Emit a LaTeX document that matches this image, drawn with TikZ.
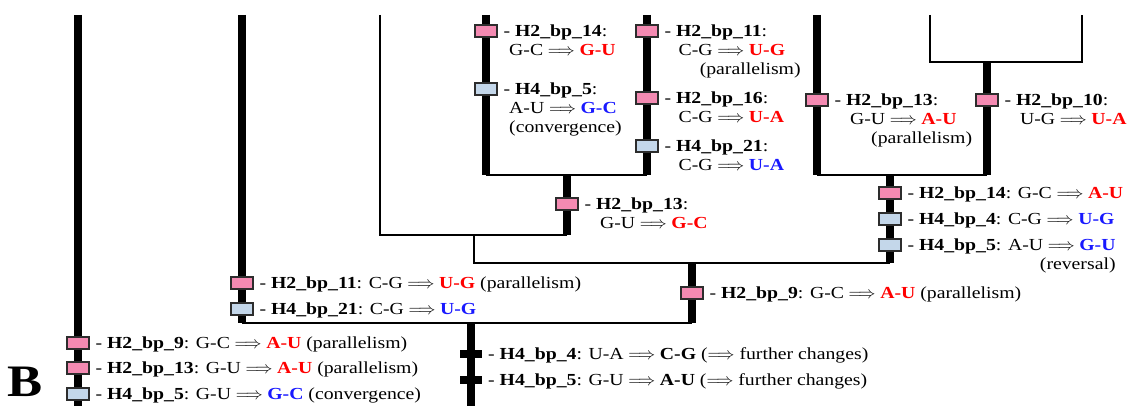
\documentclass[tikz,border=0pt]{standalone}
\usepackage{fontspec}
\setmainfont{Liberation Serif}[FakeStretch=1.17]
\usetikzlibrary{positioning, calc}
\definecolor{h2fill}{RGB}{244, 138, 178}
\definecolor{h4fill}{RGB}{196, 215, 234}
\definecolor{boxborder}{RGB}{45, 45, 45}
\definecolor{gainred}{RGB}{255, 0, 0}
\definecolor{gainblue}{RGB}{25, 25, 255}
\newcommand{\chg}{\;$\Longrightarrow$\;}
\newcommand{\redpair}[1]{\textbf{\textcolor{gainred}{#1}}}
\newcommand{\bluepair}[1]{\textbf{\textcolor{gainblue}{#1}}}
% first line carries the baseline
\newcommand{\toplines}[2][l]{\begin{tabular}[t]{@{}#1@{}}#2\end{tabular}}

\begin{document}
\begin{tikzpicture}[
    x=0.025cm, y=-0.025cm, % one unit = one pixel of the figure
    font=\fontsize{12}{13.5}\selectfont,
    % Styles
    branch/.style={line width=6.3pt},
    link/.style={line width=1.1pt},
    mutbox/.style={
        rectangle,
        draw=boxborder,
        fill=#1,
        line width=1pt,
        minimum width=0.55cm,
        minimum height=0.3cm,
        inner sep=0pt
    },
    tickbar/.style={
        rectangle,
        fill=black,
        minimum width=0.55cm,
        minimum height=0.18cm,
        inner sep=0pt
    },
    mutlabel/.style={
        anchor=base west,
        inner sep=0pt,
        xshift=4pt,
        yshift=-3.9pt
    }
]
\useasboundingbox (0,0) rectangle (1136,406);

% --- Branch points ---
\coordinate (a_top) at (78,15);     \coordinate (a_bot) at (78,406);
\coordinate (b_top) at (242,15);    \coordinate (b_bot) at (242,323);
\coordinate (c_top) at (380,15);    \coordinate (c_bot) at (380,235);
\coordinate (d_top) at (486,15);    \coordinate (d_bot) at (486,175);
\coordinate (e_top) at (647,15);    \coordinate (e_bot) at (647,175);
\coordinate (de_mid) at (567,175);  \coordinate (de_bot) at (567,235);
\coordinate (f_top) at (817,15);    \coordinate (f_bot) at (817,175);
\coordinate (g_top) at (930,15);    \coordinate (g_bot) at (930,62);
\coordinate (h_top) at (1082,15);   \coordinate (h_bot) at (1082,62);
\coordinate (gh_mid) at (987,62);   \coordinate (gh_bot) at (987,175);
\coordinate (fgh_mid) at (890,175); \coordinate (fgh_bot) at (890,263);
\coordinate (cde_mid) at (474,235); \coordinate (cde_bot) at (474,263);
\coordinate (mid_mid) at (692,263); \coordinate (mid_bot) at (692,323);
\coordinate (low_mid) at (471,323); \coordinate (low_bot) at (471,406);

% --- Tree ---
\draw [branch] (a_top) -- (a_bot);
\draw [branch] (b_top) -- (b_bot);
\draw [link] (c_top) -- (c_bot) -- (de_bot);
\draw [branch] (d_top) -- (d_bot);
\draw [branch] (e_top) -- (e_bot);
\draw [link] (d_bot) -- (e_bot);
\draw [branch] (de_mid) -- (de_bot);
\draw [branch] (f_top) -- (f_bot);
\draw [link] (g_top) -- (g_bot) -- (h_bot) -- (h_top);
\draw [branch] (gh_mid) -- (gh_bot);
\draw [link] (f_bot) -- (gh_bot);
\draw [branch] (fgh_mid) -- (fgh_bot);
\draw [link] (cde_mid) -- (cde_bot) -- (fgh_bot);
\draw [branch] (mid_mid) -- (mid_bot);
\draw [link] (b_bot) -- (mid_bot);
\draw [branch] (low_mid) -- (low_bot);

% --- Changes on d and e ---
\node (d_h2_14) [mutbox=h2fill] at (486,31) {};
\node (d_h2_14_txt) [mutlabel] at (d_h2_14.east) {\toplines{- \textbf{H2\_bp\_14}:\\\hspace*{4pt}G-C\chg\redpair{G-U}}};
\node (d_h4_5) [mutbox=h4fill] at (486,89) {};
\node (d_h4_5_txt) [mutlabel] at (d_h4_5.east) {\toplines{- \textbf{H4\_bp\_5}:\\\hspace*{4pt}A-U\chg\bluepair{G-C}\\\hspace*{4pt}(convergence)}};

\node (e_h2_11) [mutbox=h2fill] at (647,31) {};
\node (e_h2_11_txt) [mutlabel] at (e_h2_11.east) {\toplines{- \textbf{H2\_bp\_11}:\\\hspace*{10pt}C-G\chg\redpair{U-G}\\\hspace*{25pt}(parallelism)}};
\node (e_h2_16) [mutbox=h2fill] at (647,98) {};
\node (e_h2_16_txt) [mutlabel] at (e_h2_16.east) {\toplines{- \textbf{H2\_bp\_16}:\\\hspace*{10pt}C-G\chg\redpair{U-A}}};
\node (e_h4_21) [mutbox=h4fill] at (647,146) {};
\node (e_h4_21_txt) [mutlabel] at (e_h4_21.east) {\toplines{- \textbf{H4\_bp\_21}:\\\hspace*{10pt}C-G\chg\bluepair{U-A}}};

\node (de_h2_13) [mutbox=h2fill] at (567,204) {};
\node (de_h2_13_txt) [mutlabel] at (de_h2_13.east) {\toplines{- \textbf{H2\_bp\_13}:\\\hspace*{11pt}G-U\chg\redpair{G-C}}};

% --- Changes on f, g and h ---
\node (f_h2_13) [mutbox=h2fill] at (817,100) {};
\node (f_h2_13_txt) [mutlabel] at (f_h2_13.east) {\toplines{- \textbf{H2\_bp\_13}:\\\hspace*{11pt}G-U\chg\redpair{A-U}\\\hspace*{26pt}(parallelism)}};
\node (gh_h2_10) [mutbox=h2fill] at (987,100) {};
\node (gh_h2_10_txt) [mutlabel] at (gh_h2_10.east) {\toplines{- \textbf{H2\_bp\_10}:\\\hspace*{11pt}U-G\chg\redpair{U-A}}};

\node (fgh_h2_14) [mutbox=h2fill] at (890,193) {};
\node (fgh_h2_14_txt) [mutlabel] at (fgh_h2_14.east) {- \textbf{H2\_bp\_14}: G-C\chg\redpair{A-U}};
\node (fgh_h4_4) [mutbox=h4fill] at (890,219) {};
\node (fgh_h4_4_txt) [mutlabel] at (fgh_h4_4.east) {- \textbf{H4\_bp\_4}: C-G\chg\bluepair{U-G}};
\node (fgh_h4_5) [mutbox=h4fill] at (890,245) {};
\node (fgh_h4_5_txt) [mutlabel] at (fgh_h4_5.east) {\toplines[r]{- \textbf{H4\_bp\_5}: A-U\chg\bluepair{G-U}\\(reversal)}};

% --- Changes lower down ---
\node (mid_h2_9) [mutbox=h2fill] at (692,293) {};
\node (mid_h2_9_txt) [mutlabel] at (mid_h2_9.east) {- \textbf{H2\_bp\_9}: G-C\chg\redpair{A-U} (parallelism)};

\node (b_h2_11) [mutbox=h2fill] at (242,283) {};
\node (b_h2_11_txt) [mutlabel] at (b_h2_11.east) {- \textbf{H2\_bp\_11}: C-G\chg\redpair{U-G} (parallelism)};
\node (b_h4_21) [mutbox=h4fill] at (242,309) {};
\node (b_h4_21_txt) [mutlabel] at (b_h4_21.east) {- \textbf{H4\_bp\_21}: C-G\chg\bluepair{U-G}};

\node (a_h2_9) [mutbox=h2fill] at (78,343) {};
\node (a_h2_9_txt) [mutlabel] at (a_h2_9.east) {- \textbf{H2\_bp\_9}: G-C\chg\redpair{A-U} (parallelism)};
\node (a_h2_13) [mutbox=h2fill] at (78,368) {};
\node (a_h2_13_txt) [mutlabel] at (a_h2_13.east) {- \textbf{H2\_bp\_13}: G-U\chg\redpair{A-U} (parallelism)};
\node (a_h4_5) [mutbox=h4fill] at (78,394) {};
\node (a_h4_5_txt) [mutlabel] at (a_h4_5.east) {- \textbf{H4\_bp\_5}: G-U\chg\bluepair{G-C} (convergence)};

\node (low_h4_4) [tickbar] at (471,354) {};
\node (low_h4_4_txt) [mutlabel] at (low_h4_4.east) {- \textbf{H4\_bp\_4}: U-A\chg\textbf{C-G} ($\Longrightarrow$ further changes)};
\node (low_h4_5) [tickbar] at (471,380) {};
\node (low_h4_5_txt) [mutlabel] at (low_h4_5.east) {- \textbf{H4\_bp\_5}: G-U\chg\textbf{A-U} ($\Longrightarrow$ further changes)};

% --- Panel letter ---
\node (panel_b) [font=\fontsize{32}{32}\selectfont\bfseries] at (25,382) {B};

\end{tikzpicture}
\end{document}
